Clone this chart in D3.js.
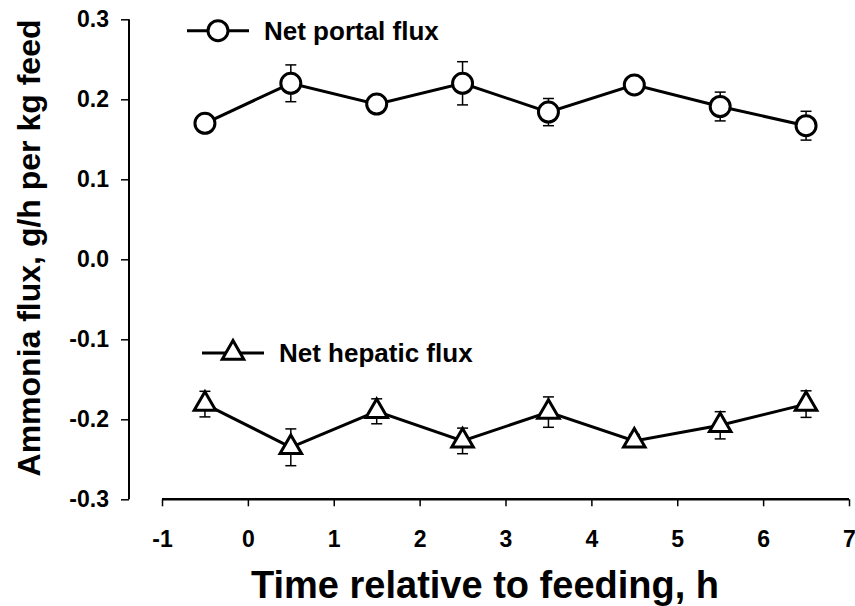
<!DOCTYPE html>
<html>
<head>
<meta charset="utf-8">
<script src="https://cdn.jsdelivr.net/npm/d3@7"></script>
<style>
  html, body { margin: 0; padding: 0; background: #fff; }
  svg { display: block; }
  text { font-family: "Liberation Sans", Arial, sans-serif; font-weight: bold; fill: #000; }
</style>
</head>
<body>
<script>
// ---- data ----
const times = [-0.5, 0.5, 1.5, 2.5, 3.5, 4.5, 5.5, 6.5];
const portalFlux = [0.170, 0.220, 0.194, 0.220, 0.184, 0.218, 0.191, 0.167];
const portalSE   = [0.006, 0.023, 0.008, 0.027, 0.017, 0.006, 0.018, 0.018];
const hepaticFlux = [-0.181, -0.235, -0.190, -0.227, -0.191, -0.227, -0.2075, -0.181];
const hepaticSE   = [0.016, 0.023, 0.0156, 0.016, 0.019, 0.008, 0.017, 0.0166];
const xTicks = [-1, 0, 1, 2, 3, 4, 5, 6, 7];
const yTicks = [-0.3, -0.2, -0.1, 0.0, 0.1, 0.2, 0.3];
const seriesNames = ["Net portal flux", "Net hepatic flux"];
const xTitle = "Time relative to feeding, h";
const yTitle = "Ammonia flux, g/h per kg feed";

const W = 855, H = 606;
const svg = d3.select("body").append("svg").attr("width", W).attr("height", H);

const x = d3.scaleLinear().domain([-1, 7]).range([162, 849]);
const y = d3.scaleLinear().domain([-0.3, 0.3]).range([499.3, 19.3]);

const hy = s => s.replace("\u2212", "-");

// y axis
const yAxis = svg.append("g").attr("transform", "translate(129,0)")
  .call(d3.axisLeft(y).tickValues(yTicks).tickFormat(d => hy(d3.format(".1f")(d))).tickSize(8).tickPadding(12));
yAxis.select(".domain").attr("stroke", "#000").attr("stroke-width", 2).attr("d", `M0,${y(0.3)}V${y(-0.3)}`);
yAxis.selectAll(".tick line").attr("stroke", "#000").attr("stroke-width", 1.5);
yAxis.selectAll(".tick text").style("font-size", "23px").style("font-family", "Liberation Sans, Arial, sans-serif").style("font-weight", "bold").attr("fill", "#000");

// x axis
const xAxis = svg.append("g").attr("transform", "translate(0,499.3)")
  .call(d3.axisBottom(x).tickValues(xTicks).tickFormat(d => hy(d3.format("d")(d))).tickSize(7).tickPadding(24));
xAxis.select(".domain").attr("stroke", "#000").attr("stroke-width", 2.5).attr("d", `M${x(-1)},0H${x(7)}`);
xAxis.selectAll(".tick line").attr("stroke", "#000").attr("stroke-width", 1.5);
xAxis.selectAll(".tick text").style("font-size", "23px").style("font-family", "Liberation Sans, Arial, sans-serif").style("font-weight", "bold").attr("fill", "#000");

// titles
svg.append("text").attr("x", 485).attr("y", 598).attr("text-anchor", "middle")
  .style("font-size", "38px").text(xTitle);
svg.append("text").attr("transform", `translate(40,248) rotate(-90)`).attr("text-anchor", "middle")
  .style("font-size", "32px").text(yTitle);

const line = d3.line().x((d, i) => x(times[i])).y(d => y(d));

function drawSeries(vals, se, symbolType, symSize) {
  const g = svg.append("g");
  vals.forEach((v, i) => {
    const cx = x(times[i]);
    const y1 = y(v + se[i]), y2 = y(v - se[i]);
    g.append("line").attr("x1", cx).attr("x2", cx).attr("y1", y1).attr("y2", y2).attr("stroke", "#000").attr("stroke-width", 1.5);
    g.append("line").attr("x1", cx - 5.5).attr("x2", cx + 5.5).attr("y1", y1).attr("y2", y1).attr("stroke", "#000").attr("stroke-width", 1.5);
    g.append("line").attr("x1", cx - 5.5).attr("x2", cx + 5.5).attr("y1", y2).attr("y2", y2).attr("stroke", "#000").attr("stroke-width", 1.5);
  });
  g.append("path").datum(vals).attr("d", line).attr("fill", "none").attr("stroke", "#000").attr("stroke-width", 3);
  const sym = d3.symbol().type(symbolType).size(symSize);
  g.selectAll("path.m").data(vals).enter().append("path").attr("class", "m")
    .attr("transform", (d, i) => `translate(${x(times[i])},${y(d)})`)
    .attr("d", sym).attr("fill", "#fff").attr("stroke", "#000").attr("stroke-width", 3);
}

const circSize = Math.PI * 10 * 10;
const triSize = 200;
drawSeries(portalFlux, portalSE, d3.symbolCircle, circSize);
drawSeries(hepaticFlux, hepaticSE, d3.symbolTriangle, triSize);

// legends
function legend(lx1, lx2, ly, symType, symSize, label, tx) {
  svg.append("line").attr("x1", lx1).attr("x2", lx2).attr("y1", ly).attr("y2", ly).attr("stroke", "#000").attr("stroke-width", 3);
  svg.append("path").attr("transform", `translate(${(lx1 + lx2) / 2},${ly})`)
    .attr("d", d3.symbol().type(symType).size(symSize)).attr("fill", "#fff").attr("stroke", "#000").attr("stroke-width", 3);
  svg.append("text").attr("x", tx).attr("y", ly + 9).style("font-size", "26px").text(label);
}
legend(187, 249, 30.7, d3.symbolCircle, circSize, seriesNames[0], 264);
legend(202, 264, 353, d3.symbolTriangle, triSize, seriesNames[1], 279);
</script>
</body>
</html>
